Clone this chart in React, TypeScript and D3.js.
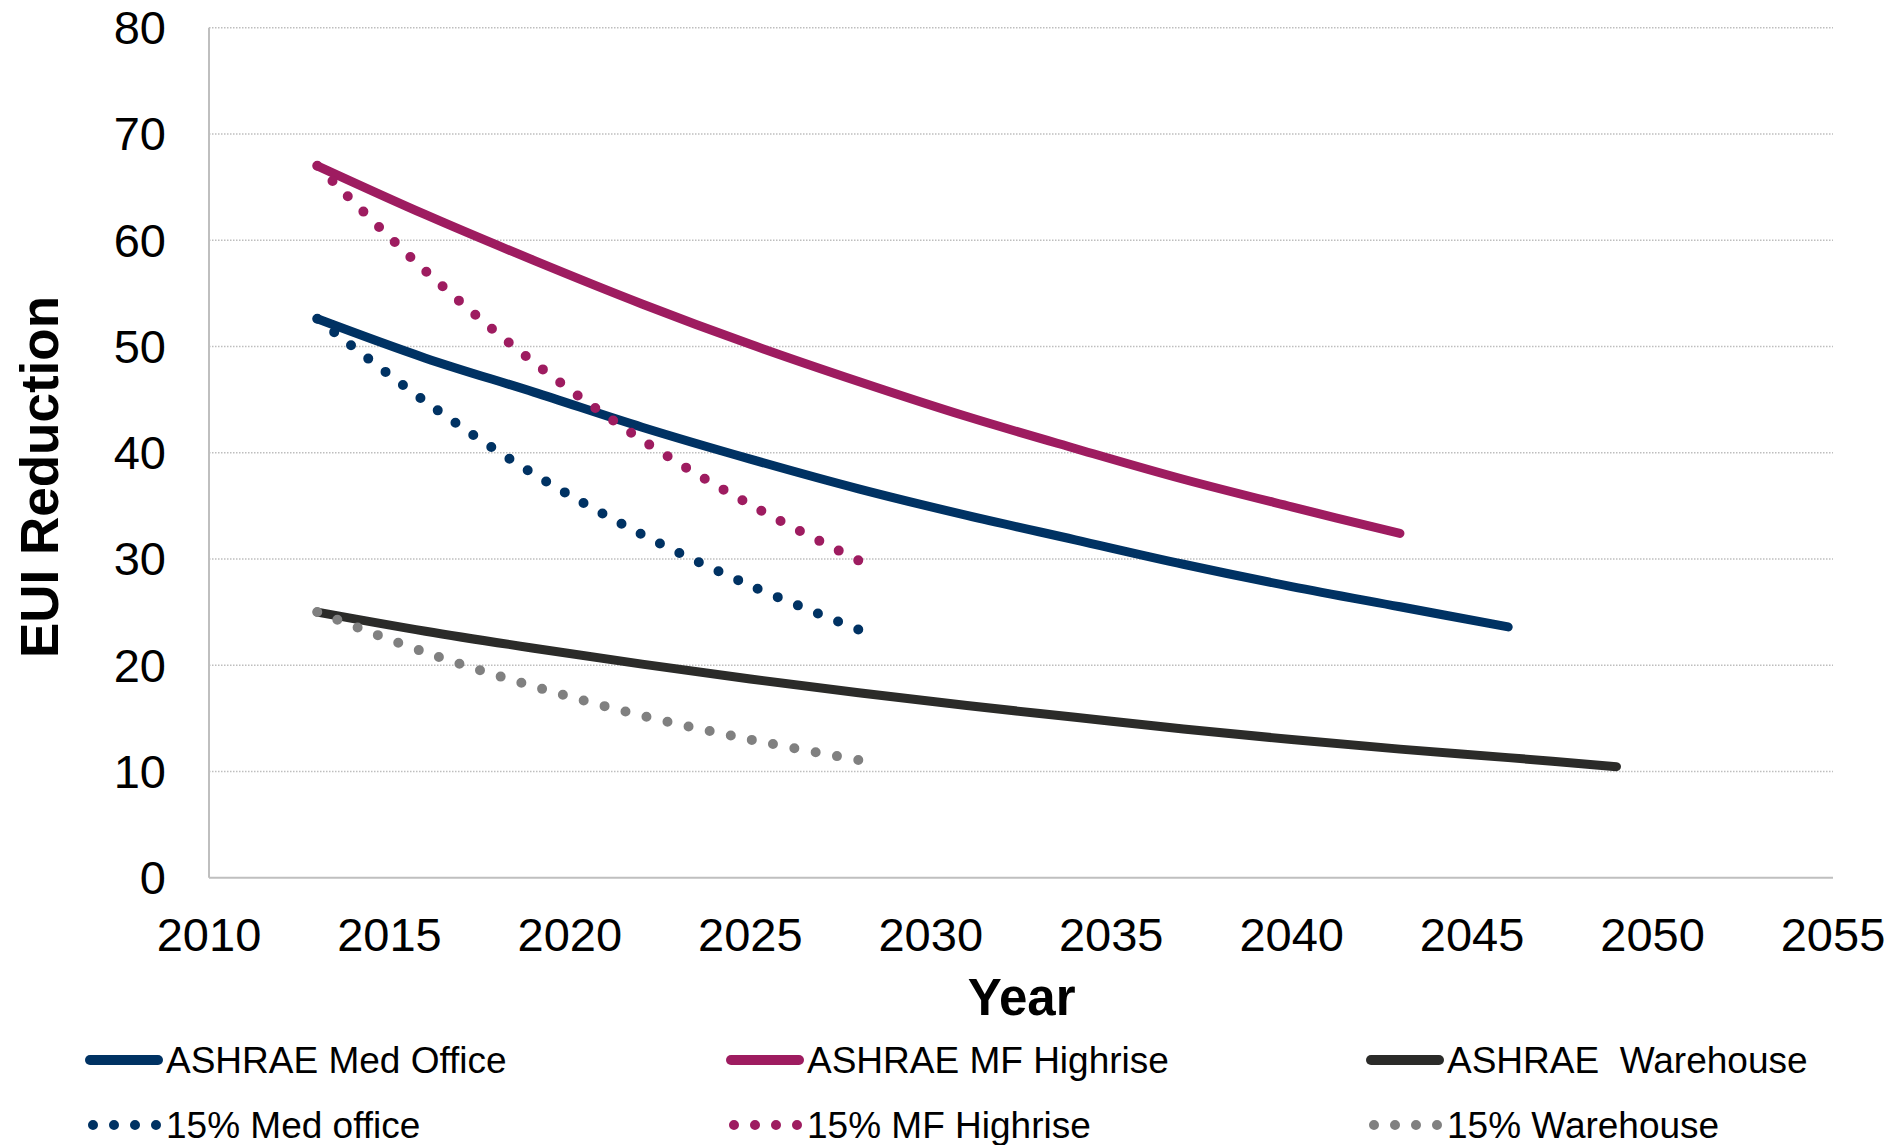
import React, { useEffect, useRef } from "react";
import * as d3 from "d3";

const medOfficeYears = [2013, 2016, 2019, 2022, 2025, 2028, 2031, 2034, 2037, 2040, 2043, 2046];
const medOfficeVals = [52.6, 48.9, 45.7, 42.4, 39.4, 36.6, 34.1, 31.8, 29.5, 27.4, 25.5, 23.6];

const mfYears = [2013, 2016, 2019, 2022, 2025, 2028, 2031, 2034, 2037, 2040, 2043];
const mfVals = [67.0, 62.4, 58.1, 54.0, 50.2, 46.7, 43.4, 40.4, 37.5, 34.9, 32.4];

const whYears = [2013, 2016, 2019, 2022, 2025, 2028, 2031, 2034, 2037, 2040, 2043, 2046, 2049];
const whVals = [25.0, 23.2, 21.6, 20.1, 18.7, 17.4, 16.2, 15.1, 14.0, 13.0, 12.1, 11.3, 10.45];

const pctYears = [2013, 2016, 2019, 2022, 2025, 2028];
const pctMedVals = [52.6, 44.8, 38.0, 32.3, 27.5, 23.35];
const pctMfVals = [67.0, 57.1, 48.5, 41.2, 35.1, 29.85];
const pctWhVals = [25.0, 21.2, 18.0, 15.25, 13.0, 11.07];

const yTicks = [0, 10, 20, 30, 40, 50, 60, 70, 80];
const xTicks = [2010, 2015, 2020, 2025, 2030, 2035, 2040, 2045, 2050, 2055];

const seriesNames = [
  "ASHRAE Med Office",
  "ASHRAE MF Highrise",
  "ASHRAE  Warehouse",
  "15% Med office",
  "15% MF Highrise",
  "15% Warehouse",
];

const NAVY = "#003263";
const MAGENTA = "#9E1C60";
const DARK = "#2B2B29";
const GRAY = "#808080";

const FONT = "'Liberation Sans', Arial, Helvetica, sans-serif";

export default function App() {
  const svgRef = useRef<SVGSVGElement | null>(null);

  const x = d3.scaleLinear().domain([2010, 2055]).range([209, 1833]);
  const y = d3.scaleLinear().domain([0, 80]).range([877.7, 27.7]);

  const line = d3
    .line<[number, number]>()
    .x((d) => x(d[0]))
    .y((d) => y(d[1]))
    .curve(d3.curveCatmullRom.alpha(0.5));

  const zip = (xs: number[], vs: number[]) => xs.map((v, i) => [v, vs[i]] as [number, number]);

  const series = [
    { name: seriesNames[0], data: zip(medOfficeYears, medOfficeVals), color: NAVY, dotted: false },
    { name: seriesNames[1], data: zip(mfYears, mfVals), color: MAGENTA, dotted: false },
    { name: seriesNames[2], data: zip(whYears, whVals), color: DARK, dotted: false },
    { name: seriesNames[3], data: zip(pctYears, pctMedVals), color: NAVY, dotted: true },
    { name: seriesNames[4], data: zip(pctYears, pctMfVals), color: MAGENTA, dotted: true },
    { name: seriesNames[5], data: zip(pctYears, pctWhVals), color: GRAY, dotted: true },
  ];

  useEffect(() => {
    if (!svgRef.current) return;
    d3.select(svgRef.current)
      .selectAll<SVGPathElement, unknown>("path.dotted")
      .each(function () {
        const L = this.getTotalLength();
        const n = Math.max(1, Math.round(L / 21.7));
        const period = L / n - 0.02;
        this.setAttribute("stroke-dasharray", `0,${period}`);
      });
  }, []);

  const legendCols = [86, 727, 1367];
  const legendRows = [1060, 1125];

  return (
    <svg
      ref={svgRef}
      width={1903}
      height={1145}
      style={{ position: "absolute", left: 0, top: 0, background: "#fff" }}
      fontFamily={FONT}
    >
      {yTicks
        .filter((t) => t > 0)
        .map((t) => (
          <line
            key={"g" + t}
            x1={x(2010)}
            x2={x(2055)}
            y1={y(t)}
            y2={y(t)}
            stroke="#BEBEBE"
            strokeWidth={1.5}
            strokeDasharray="1.5,1.5"
          />
        ))}
      <line x1={x(2010)} x2={x(2010)} y1={y(80)} y2={y(0)} stroke="#BFBFBF" strokeWidth={2} />
      <line x1={x(2010)} x2={x(2055)} y1={y(0)} y2={y(0)} stroke="#BFBFBF" strokeWidth={2} />

      {yTicks.map((t) => (
        <text key={"y" + t} x={166} y={y(t) + 16.5} textAnchor="end" fontSize={47} fill="#000">
          {t}
        </text>
      ))}
      {xTicks.map((t) => (
        <text key={"x" + t} x={x(t)} y={951} textAnchor="middle" fontSize={47} fill="#000">
          {t}
        </text>
      ))}

      <text x={1021.7} y={1015} textAnchor="middle" fontSize={51} fontWeight="bold" fill="#000">
        Year
      </text>
      <text
        transform={`translate(58,477) rotate(-90)`}
        textAnchor="middle"
        fontSize={53}
        fontWeight="bold"
        fill="#000"
      >
        EUI Reduction
      </text>

      {series.map((s) => (
        <path
          key={s.name}
          className={s.dotted ? "dotted" : "solid"}
          d={line(s.data) || ""}
          fill="none"
          stroke={s.color}
          strokeWidth={s.dotted ? 10 : 9}
          strokeLinecap="round"
          strokeLinejoin="round"
          strokeDasharray={s.dotted ? "0,21.7" : undefined}
        />
      ))}

      {series.map((s, i) => {
        const col = i % 3;
        const row = Math.floor(i / 3);
        const lx = legendCols[col];
        const ly = legendRows[row];
        return (
          <g key={"leg" + i}>
            {s.dotted ? (
              <line
                x1={lx + 7}
                x2={lx + 70.5}
                y1={ly}
                y2={ly}
                stroke={s.color}
                strokeWidth={10}
                strokeLinecap="round"
                strokeDasharray="0,21"
              />
            ) : (
              <line
                x1={lx + 4}
                x2={lx + 72}
                y1={ly}
                y2={ly}
                stroke={s.color}
                strokeWidth={10}
                strokeLinecap="round"
              />
            )}
            <text x={lx + 80} y={ly + 12.5} fontSize={37} fill="#000" style={{ whiteSpace: "pre" }}>
              {s.name}
            </text>
          </g>
        );
      })}
    </svg>
  );
}
